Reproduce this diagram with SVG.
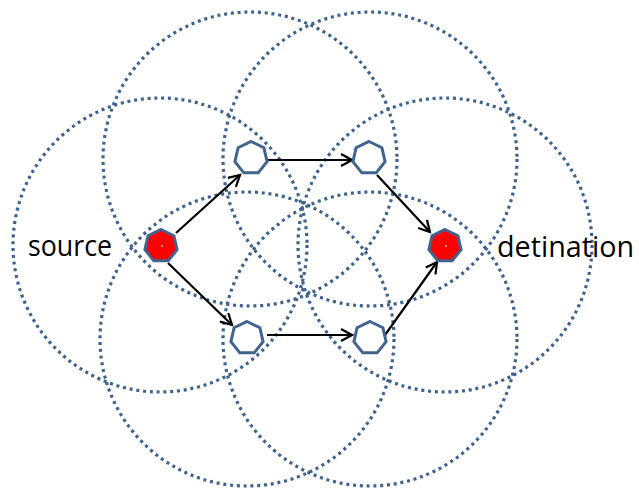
<svg xmlns="http://www.w3.org/2000/svg" width="639" height="494" viewBox="0 0 639 494">
<style>
.range{fill:none;stroke:#3F628D;stroke-width:3.2;stroke-dasharray:3 3.8}
.node{stroke:#41648F;stroke-width:3;stroke-linejoin:miter}
.src{fill:#FF0000}
.relay{fill:#FFFFFF}
.edge{stroke:#000;stroke-width:2.2;fill:none;marker-end:url(#arr)}
.lbl{font-family:"Open Sans","Noto Sans",sans-serif;font-size:30px;fill:#000}
</style>
<defs>
<marker id="arr" markerUnits="userSpaceOnUse" viewBox="-1 -8 14 16" markerWidth="14" markerHeight="16" refX="11" refY="0" orient="auto">
<path d="M0,-6 L11,0 L0,6" fill="none" stroke="#000" stroke-width="2.2"/>
</marker>
<polygon id="hept" points="0,-16.5 12.9,-10.29 16.09,3.67 7.16,14.87 -7.16,14.87 -16.09,3.67 -12.9,-10.29"/>
</defs>
<rect width="639" height="494" fill="#fff"/>
<g id="ranges">
<circle class="range" cx="160" cy="245" r="147"/>
<circle class="range" cx="445" cy="245" r="147"/>
<circle class="range" cx="250" cy="159" r="147"/>
<circle class="range" cx="370" cy="159" r="147"/>
<circle class="range" cx="247" cy="339" r="147"/>
<circle class="range" cx="370" cy="339" r="147"/>
</g>
<g id="connectors">
<line class="edge" x1="176" y1="233" x2="240" y2="175"/>
<line class="edge" x1="168" y1="263" x2="232" y2="325"/>
<line class="edge" x1="268" y1="160" x2="352" y2="160"/>
<line class="edge" x1="377" y1="175" x2="430" y2="232"/>
<line class="edge" x1="267" y1="335" x2="352" y2="335"/>
<line class="edge" x1="385" y1="335" x2="437" y2="262"/>
</g>
<g id="source">
<use href="#hept" class="node src" x="161" y="246"/>
<circle cx="162" cy="246" r="1" fill="#ffc0c0"/>
<text class="lbl" x="28" y="256" textLength="84" lengthAdjust="spacingAndGlyphs">source</text>
</g>
<g id="relay-top-left"><use href="#hept" class="node relay" x="251" y="158"/></g>
<g id="relay-top-right"><use href="#hept" class="node relay" x="369" y="158"/></g>
<g id="relay-bottom-left"><use href="#hept" class="node relay" x="247" y="338"/></g>
<g id="relay-bottom-right"><use href="#hept" class="node relay" x="370" y="338"/></g>
<g id="destination">
<use href="#hept" class="node src" x="445" y="246"/>
<circle cx="446" cy="246" r="1" fill="#ffc0c0"/>
<text class="lbl" x="497" y="257" textLength="137" lengthAdjust="spacingAndGlyphs">detination</text>
</g>
</svg>
